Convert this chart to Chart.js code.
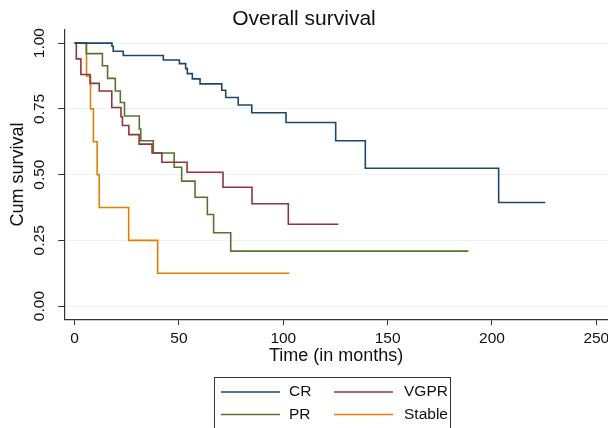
<!DOCTYPE html>
<html>
<head>
<meta charset="utf-8">
<script src="https://cdn.jsdelivr.net/npm/chart.js@4.4.0/dist/chart.umd.min.js"></script>
<style>
  html, body { margin: 0; padding: 0; background: #fff; }
  #wrap { width: 608px; height: 428px; }
</style>
</head>
<body>
<div id="wrap"><canvas id="myChart" width="608" height="428"></canvas></div>
<script>
// Kaplan-Meier steps: time (months) and survival after each step
const groups = ["CR", "VGPR", "PR", "Stable"];
const colors = ["#1a476f", "#90353b", "#55752f", "#e37e00"];

const crTime = [0, 17.9, 18.5, 23.3, 42.5, 50.2, 53.2, 54.0, 56.4, 60.1, 70.5, 72.4, 78.4, 84.9, 101.3, 125.1, 139.3, 203.2, 225.5];
const crSurv = [1, 0.988, 0.969, 0.953, 0.936, 0.922, 0.903, 0.884, 0.864, 0.845, 0.821, 0.793, 0.765, 0.735, 0.698, 0.629, 0.524, 0.394, 0.394];

const vgprTime = [0, 0.8, 3.0, 7.4, 11.8, 17.8, 22.2, 22.9, 26.0, 30.9, 37.1, 41.8, 53.9, 71.1, 85.0, 102.4, 126.4];
const vgprSurv = [1, 0.94, 0.881, 0.847, 0.818, 0.755, 0.72, 0.687, 0.652, 0.616, 0.582, 0.547, 0.509, 0.452, 0.389, 0.311, 0.311];

const prTime = [0, 5.6, 13.3, 15.8, 19.5, 21.9, 23.9, 31.0, 31.7, 37.7, 47.7, 51.3, 57.7, 63.6, 66.6, 74.8, 188.7];
const prSurv = [1, 0.96, 0.914, 0.866, 0.818, 0.774, 0.723, 0.673, 0.629, 0.582, 0.528, 0.475, 0.414, 0.348, 0.279, 0.209, 0.209];

const stableTime = [0, 5.7, 7.6, 9.0, 10.8, 11.8, 25.9, 39.8, 102.9];
const stableSurv = [1, 0.875, 0.75, 0.625, 0.5, 0.375, 0.25, 0.125, 0.125];

const xTicks = [0, 50, 100, 150, 200, 250];
const yTicks = [0, 0.25, 0.5, 0.75, 1];

const times = [crTime, vgprTime, prTime, stableTime];
const survs = [crSurv, vgprSurv, prSurv, stableSurv];

const font = "'Liberation Sans', Arial, sans-serif";

const datasets = groups.map((g, i) => ({
  label: g,
  data: times[i].map((t, j) => ({ x: t, y: survs[i][j] })),
  borderColor: colors[i],
  borderWidth: 1.6,
  stepped: "before",
  pointRadius: 0,
  fill: false
}));

// legend drawn as a bordered 2-column box like Stata's
const boxLegend = {
  id: "boxLegend",
  afterDraw(chart) {
    const ctx = chart.ctx;
    const left = 214, top = 377;
    ctx.save();
    ctx.strokeStyle = "#333";
    ctx.lineWidth = 1;
    ctx.strokeRect(left + 0.5, top + 0.5, 236, 70);
    ctx.font = "15.5px " + font;
    ctx.textBaseline = "middle";
    ctx.fillStyle = "#111";
    chart.data.datasets.forEach((ds, i) => {
      const col = i % 2, row = Math.floor(i / 2);
      const x = left + 7 + col * 113;
      const y = top + 15 + row * 22.5;
      ctx.strokeStyle = ds.borderColor;
      ctx.lineWidth = 1.5;
      ctx.beginPath();
      ctx.moveTo(x, y);
      ctx.lineTo(x + 59, y);
      ctx.stroke();
      ctx.fillText(ds.label, x + 68 + col * 2, y);
    });
    ctx.restore();
  }
};

new Chart(document.getElementById("myChart"), {
  type: "line",
  data: { datasets: datasets },
  plugins: [boxLegend],
  options: {
    responsive: false,
    animation: false,
    layout: { padding: 0 },
    plugins: {
      legend: { display: false },
      tooltip: { enabled: false },
      title: {
        display: true,
        text: "Overall survival",
        color: "#111",
        font: { family: font, size: 21, weight: "normal", lineHeight: 1 },
        padding: { top: 9, bottom: 0 }
      }
    },
    scales: {
      x: {
        type: "linear",
        min: -5,
        max: 255.6,
        afterBuildTicks: (s) => { s.ticks = xTicks.map(v => ({ value: v })); },
        afterFit: (s) => { s.height = 108.8; s.paddingLeft = 0; s.paddingRight = 0; },
        ticks: {
          color: "#111",
          font: { family: font, size: 15.5 },
          padding: 4,
          maxRotation: 0
        },
        grid: { drawOnChartArea: false, tickColor: "#333", tickLength: 6 },
        border: { color: "#333", width: 1.2 },
        title: {
          display: true,
          text: "Time (in months)",
          color: "#111",
          font: { family: font, size: 18 },
          padding: { top: 0, bottom: 61 }
        }
      },
      y: {
        min: -0.05,
        max: 1.05,
        afterBuildTicks: (s) => { s.ticks = yTicks.map(v => ({ value: v })); },
        afterFit: (s) => { s.width = 64.2; s.paddingTop = 0; s.paddingBottom = 0; },
        ticks: {
          color: "#111",
          font: { family: font, size: 15.5 },
          minRotation: 90,
          maxRotation: 90,
          crossAlign: "center",
          padding: 3,
          callback: (v) => Number(v).toFixed(2)
        },
        grid: { color: "#eaf2f3", lineWidth: 1, tickColor: "#333", tickLength: 6 },
        border: { color: "#333", width: 1.2 },
        title: {
          display: true,
          text: "Cum survival",
          color: "#111",
          font: { family: font, size: 18 },
          padding: { top: 7.5, bottom: 0 }
        }
      }
    }
  }
});
</script>
</body>
</html>
